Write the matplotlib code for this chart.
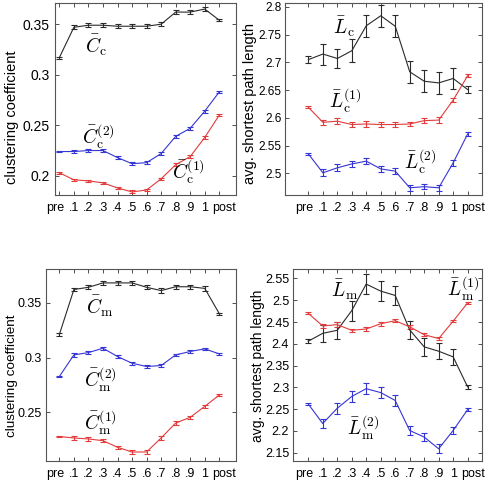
import matplotlib
matplotlib.use("Agg")
import matplotlib.pyplot as plt
import matplotlib.transforms as mtransforms
import numpy as np

plt.rcParams['font.family'] = ['Liberation Sans', 'DejaVu Sans']
plt.rcParams['mathtext.fontset'] = 'cm'

xlabels = ['pre', '.1', '.2', '.3', '.4', '.5', '.6', '.7', '.8', '.9', '1', 'post']

# Top-left: clustering coefficient (c)
Cc = [0.317, 0.347, 0.349, 0.349, 0.348, 0.348, 0.348, 0.350, 0.362, 0.362, 0.365, 0.354]
Cc_err = [0.001, 0.002, 0.002, 0.002, 0.002, 0.002, 0.002, 0.002, 0.002, 0.002, 0.002, 0.001]
Cc1 = [0.203, 0.196, 0.195, 0.193, 0.188, 0.184, 0.186, 0.197, 0.211, 0.219, 0.238, 0.260]
Cc1_err = [0.001, 0.0012, 0.0012, 0.0012, 0.0012, 0.0015, 0.0012, 0.0012, 0.0012, 0.0012, 0.0012, 0.0008]
Cc2 = [0.224, 0.224, 0.225, 0.225, 0.218, 0.212, 0.213, 0.222, 0.239, 0.247, 0.264, 0.283]
Cc2_err = [0.0008, 0.0015, 0.0015, 0.0015, 0.0015, 0.0015, 0.0015, 0.0015, 0.0015, 0.0015, 0.0015, 0.0008]

# Top-right: avg shortest path length (c)
Lc = [2.705, 2.715, 2.707, 2.721, 2.766, 2.784, 2.765, 2.683, 2.666, 2.663, 2.671, 2.651]
Lc_err = [0.006, 0.019, 0.018, 0.021, 0.020, 0.020, 0.020, 0.020, 0.020, 0.020, 0.019, 0.006]
Lc1 = [2.619, 2.592, 2.594, 2.588, 2.589, 2.588, 2.588, 2.589, 2.595, 2.596, 2.632, 2.676]
Lc1_err = [0.002, 0.005, 0.005, 0.005, 0.005, 0.005, 0.005, 0.004, 0.004, 0.005, 0.004, 0.003]
Lc2 = [2.535, 2.501, 2.510, 2.517, 2.522, 2.508, 2.504, 2.474, 2.476, 2.474, 2.519, 2.571]
Lc2_err = [0.002, 0.006, 0.006, 0.006, 0.006, 0.005, 0.006, 0.005, 0.005, 0.005, 0.005, 0.003]

# Bottom-left: clustering coefficient (m)
Cm = [0.321, 0.362, 0.364, 0.368, 0.368, 0.368, 0.364, 0.361, 0.3645, 0.3645, 0.363, 0.340]
Cm_err = [0.001, 0.0015, 0.002, 0.002, 0.002, 0.002, 0.002, 0.002, 0.002, 0.002, 0.002, 0.001]
Cm1 = [0.228, 0.2267, 0.2258, 0.2242, 0.2182, 0.2139, 0.2139, 0.2267, 0.2403, 0.2455, 0.2555, 0.2658]
Cm1_err = [0.0006, 0.0015, 0.0015, 0.0015, 0.0015, 0.0015, 0.0015, 0.0015, 0.0015, 0.0015, 0.0012, 0.0006]
Cm2 = [0.2827, 0.3024, 0.3045, 0.3085, 0.3009, 0.2948, 0.2918, 0.2927, 0.3024, 0.3055, 0.3079, 0.3033]
Cm2_err = [0.0006, 0.0015, 0.0015, 0.0015, 0.0015, 0.0015, 0.0015, 0.0015, 0.0012, 0.0012, 0.0012, 0.0006]

# Bottom-right: avg shortest path length (m)
Lm = [2.406, 2.424, 2.431, 2.476, 2.537, 2.521, 2.511, 2.432, 2.393, 2.383, 2.370, 2.301]
Lm_err = [0.005, 0.020, 0.020, 0.023, 0.023, 0.023, 0.022, 0.020, 0.020, 0.019, 0.018, 0.004]
Lm1 = [2.470, 2.441, 2.444, 2.431, 2.434, 2.446, 2.453, 2.439, 2.421, 2.412, 2.452, 2.494]
Lm1_err = [0.002, 0.005, 0.005, 0.004, 0.004, 0.004, 0.004, 0.004, 0.004, 0.004, 0.003, 0.002]
Lm2 = [2.262, 2.217, 2.252, 2.279, 2.297, 2.288, 2.270, 2.201, 2.186, 2.159, 2.201, 2.249]
Lm2_err = [0.002, 0.010, 0.012, 0.012, 0.012, 0.012, 0.012, 0.010, 0.010, 0.010, 0.008, 0.003]

BLACK = '#2a2a2a'
RED = '#e33b3b'
BLUE = '#3535d5'

fig = plt.figure(figsize=(4.89, 4.80), dpi=100)
W, H = 489.0, 480.0

def make_ax(l, r, t, b):
    return fig.add_axes([l / W, 1 - b / H, (r - l) / W, (b - t) / H])

def style(ax, xlim, ylim, yticks, ytlabels, ysize, ypad):
    ax.set_xlim(*xlim)
    ax.set_ylim(*ylim)
    ax.set_xticks(np.arange(len(xlabels)))
    ax.set_xticklabels(xlabels)
    ax.set_yticks(yticks)
    ax.set_yticklabels(ytlabels)
    ax.tick_params(direction='in', length=3, width=0.6, top=True, right=True,
                   colors='#333333', labelcolor='black')
    ax.tick_params(axis='x', labelsize=9, pad=5)
    ax.tick_params(axis='y', labelsize=ysize, pad=ypad)
    for s in ax.spines.values():
        s.set_color('#555555')
        s.set_linewidth(0.8)
    labs = ax.get_xticklabels()
    labs[0].set_transform(labs[0].get_transform() +
                          mtransforms.ScaledTranslation(-4 / 100, 0, fig.dpi_scale_trans))
    labs[-1].set_transform(labs[-1].get_transform() +
                           mtransforms.ScaledTranslation(5 / 100, 0, fig.dpi_scale_trans))

def ylab(xpx, ypx, text, size):
    fig.text(xpx / W, 1 - ypx / H, text, rotation=90, ha='center', va='center',
             fontsize=size)

def series(ax, y, e, c):
    x = np.arange(len(y))
    ax.errorbar(x, y, yerr=e, color=c, lw=0.8, elinewidth=0.8, capsize=2.5,
                capthick=0.8)

# Top-left
ax1 = make_ax(55, 236, 3, 195)
series(ax1, Cc, Cc_err, BLACK)
series(ax1, Cc2, Cc2_err, BLUE)
series(ax1, Cc1, Cc1_err, RED)
style(ax1, (-0.3, 12.15), (0.181, 0.371), [0.2, 0.25, 0.3, 0.35],
      ['0.2', '0.25', '0.3', '0.35'], 10, 4)
ylab(12, 117, 'clustering coefficient', 10.5)
ax1.text(2.57, 0.329, r'$\bar{C}_{\mathrm{c}}$', fontsize=14, ha='center', va='center')
ax1.text(2.68, 0.2389, r'$\bar{C}_{\mathrm{c}}^{(2)}$', fontsize=14, ha='center', va='center')
ax1.text(8.9, 0.2035, r'$\bar{C}_{\mathrm{c}}^{(1)}$', fontsize=14, ha='center', va='center')

# Top-right
ax2 = make_ax(284.5, 481.7, 3, 195)
series(ax2, Lc, Lc_err, BLACK)
series(ax2, Lc1, Lc1_err, RED)
series(ax2, Lc2, Lc2_err, BLUE)
style(ax2, (-1.65, 11.97), (2.461, 2.807), [2.5, 2.55, 2.6, 2.65, 2.7, 2.75, 2.8],
      ['2.5', '2.55', '2.6', '2.65', '2.7', '2.75', '2.8'], 8.5, 2)
ylab(250, 104, 'avg. shortest path length', 10.5)
ax2.text(2.48, 2.765, r'$\bar{L}_{\mathrm{c}}$', fontsize=14, ha='center', va='center')
ax2.text(2.53, 2.63, r'$\bar{L}_{\mathrm{c}}^{(1)}$', fontsize=14, ha='center', va='center')
ax2.text(7.7, 2.521, r'$\bar{L}_{\mathrm{c}}^{(2)}$', fontsize=14, ha='center', va='center')

# Bottom-left
ax3 = make_ax(45.7, 236, 269.3, 461)
series(ax3, Cm, Cm_err, BLACK)
series(ax3, Cm2, Cm2_err, BLUE)
series(ax3, Cm1, Cm1_err, RED)
style(ax3, (-0.94, 12.15), (0.2057, 0.3804), [0.25, 0.3, 0.35],
      ['0.25', '0.3', '0.35'], 9, 3)
ylab(12, 376, 'clustering coefficient', 9.7)
ax3.text(2.8, 0.3464, r'$\bar{C}_{\mathrm{m}}$', fontsize=14, ha='center', va='center')
ax3.text(2.8, 0.2797, r'$\bar{C}_{\mathrm{m}}^{(2)}$', fontsize=14, ha='center', va='center')
ax3.text(2.8, 0.240, r'$\bar{C}_{\mathrm{m}}^{(1)}$', fontsize=14, ha='center', va='center')

# Bottom-right
ax4 = make_ax(293.3, 481.7, 269.3, 461)
series(ax4, Lm, Lm_err, BLACK)
series(ax4, Lm1, Lm1_err, RED)
series(ax4, Lm2, Lm2_err, BLUE)
style(ax4, (-1.03, 11.97), (2.131, 2.571),
      [2.15, 2.2, 2.25, 2.3, 2.35, 2.4, 2.45, 2.5, 2.55],
      ['2.15', '2.2', '2.25', '2.3', '2.35', '2.4', '2.45', '2.5', '2.55'], 9, 3)
ylab(258, 366, 'avg. shortest path length', 10)
ax4.text(2.48, 2.523, r'$\bar{L}_{\mathrm{m}}$', fontsize=14, ha='center', va='center')
ax4.text(10.7, 2.525, r'$\bar{L}_{\mathrm{m}}^{(1)}$', fontsize=14, ha='center', va='center')
ax4.text(3.8, 2.206, r'$\bar{L}_{\mathrm{m}}^{(2)}$', fontsize=14, ha='center', va='center')

fig.savefig('out.png', dpi=100)
